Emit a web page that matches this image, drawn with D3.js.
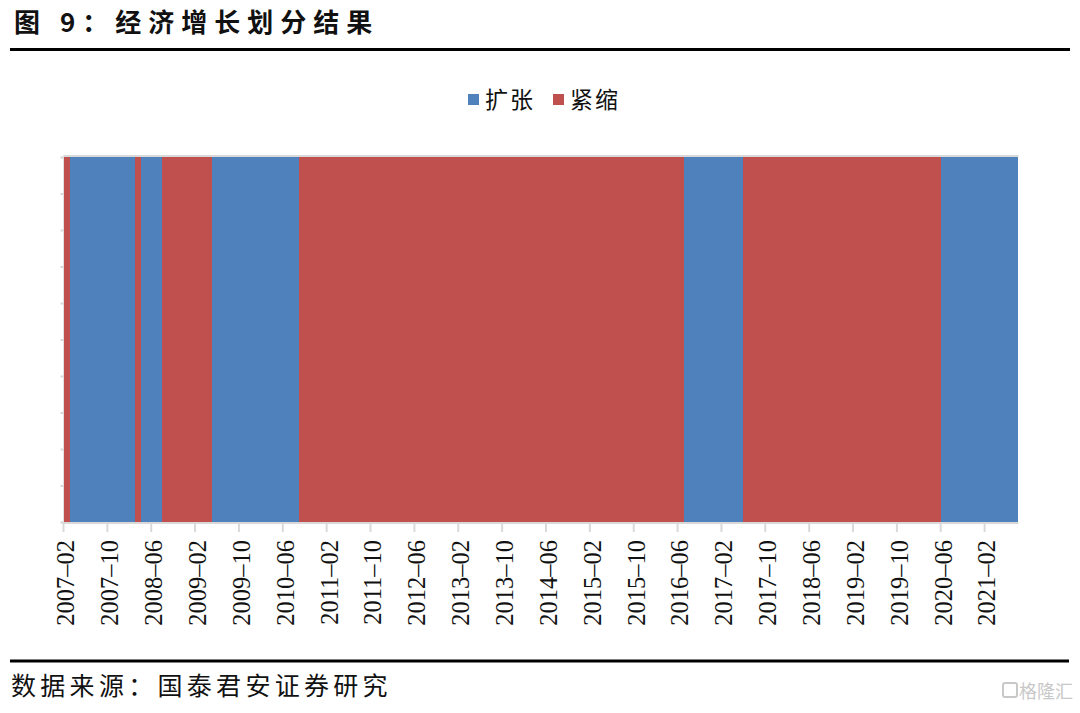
<!DOCTYPE html>
<html>
<head>
<meta charset="utf-8">
<script src="https://cdn.jsdelivr.net/npm/d3@7"></script>
<style>
  html, body { margin: 0; padding: 0; background: #fff; }
  svg { display: block; }
</style>
</head>
<body>
<svg id="chart" width="1080" height="713"></svg>
<script>
// ---------------- DATA ----------------
const seriesNames = ["扩张", "紧缩"];
const seriesColors = ["#4F81BD", "#C0504D"];
const firstMonth = "2007-02";
const lastMonth = "2021-07";
// monthly regime, 1 = in that state (2007-02 ... 2021-07)
const expansion = [
  /*2007*/ 0,1,1,1,1,1,1,1,1,1,1,
  /*2008*/ 1,1,0,1,1,1,1,0,0,0,0,0,
  /*2009*/ 0,0,0,0,1,1,1,1,1,1,1,1,
  /*2010*/ 1,1,1,1,1,1,1,1,0,0,0,0,
  /*2011*/ 0,0,0,0,0,0,0,0,0,0,0,0,
  /*2012*/ 0,0,0,0,0,0,0,0,0,0,0,0,
  /*2013*/ 0,0,0,0,0,0,0,0,0,0,0,0,
  /*2014*/ 0,0,0,0,0,0,0,0,0,0,0,0,
  /*2015*/ 0,0,0,0,0,0,0,0,0,0,0,0,
  /*2016*/ 0,0,0,0,0,0,1,1,1,1,1,1,
  /*2017*/ 1,1,1,1,1,0,0,0,0,0,0,0,
  /*2018*/ 0,0,0,0,0,0,0,0,0,0,0,0,
  /*2019*/ 0,0,0,0,0,0,0,0,0,0,0,0,
  /*2020*/ 0,0,0,0,0,1,1,1,1,1,1,1,
  /*2021*/ 1,1,1,1,1,1,1
];
const contraction = [
  /*2007*/ 1,0,0,0,0,0,0,0,0,0,0,
  /*2008*/ 0,0,1,0,0,0,0,1,1,1,1,1,
  /*2009*/ 1,1,1,1,0,0,0,0,0,0,0,0,
  /*2010*/ 0,0,0,0,0,0,0,0,1,1,1,1,
  /*2011*/ 1,1,1,1,1,1,1,1,1,1,1,1,
  /*2012*/ 1,1,1,1,1,1,1,1,1,1,1,1,
  /*2013*/ 1,1,1,1,1,1,1,1,1,1,1,1,
  /*2014*/ 1,1,1,1,1,1,1,1,1,1,1,1,
  /*2015*/ 1,1,1,1,1,1,1,1,1,1,1,1,
  /*2016*/ 1,1,1,1,1,1,0,0,0,0,0,0,
  /*2017*/ 0,0,0,0,0,1,1,1,1,1,1,1,
  /*2018*/ 1,1,1,1,1,1,1,1,1,1,1,1,
  /*2019*/ 1,1,1,1,1,1,1,1,1,1,1,1,
  /*2020*/ 1,1,1,1,1,0,0,0,0,0,0,0,
  /*2021*/ 0,0,0,0,0,0,0
];
const tickLabels = ["2007-02","2007-10","2008-06","2009-02","2009-10","2010-06",
  "2011-02","2011-10","2012-06","2013-02","2013-10","2014-06","2015-02","2015-10",
  "2016-06","2017-02","2017-10","2018-06","2019-02","2019-10","2020-06","2021-02"];
const titleText = "图 9：经济增长划分结果";
const sourceText = "数据来源：国泰君安证券研究";

// ---------------- BUILD ----------------
const parse = d3.timeParse("%Y-%m");
const fmt = d3.timeFormat("%Y-%m");
const months = d3.timeMonth.range(parse(firstMonth), d3.timeMonth.offset(parse(lastMonth), 1)).map(fmt);
const rows = months.map((m, i) => ({ month: m, "扩张": expansion[i], "紧缩": contraction[i] }));

const svg = d3.select("#chart");
const plot = { left: 63.5, right: 1017.5, top: 157, bottom: 522 };

const x = d3.scaleBand().domain(months).range([plot.left, plot.right]).padding(0);
const y = d3.scaleLinear().domain([0, 1]).range([plot.bottom, plot.top]);
const color = d3.scaleOrdinal().domain(seriesNames).range(seriesColors);

const stacked = d3.stack().keys(seriesNames)(rows);

// Title
svg.append("text")
  .attr("x", 14).attr("y", 32)
  .attr("font-family", "'Noto Sans CJK SC', sans-serif")
  .attr("font-weight", "bold")
  .attr("font-size", 26)
  .attr("letter-spacing", 7)
  .attr("fill", "#111")
  .text(titleText);
svg.append("line")
  .attr("x1", 10).attr("x2", 1070).attr("y1", 49.5).attr("y2", 49.5)
  .attr("stroke", "#000").attr("stroke-width", 3);

// Legend
const legend = svg.append("g").attr("transform", "translate(468,0)");
const legendItems = [{ name: "扩张", x: 0 }, { name: "紧缩", x: 85 }];
legendItems.forEach(it => {
  legend.append("rect").attr("x", it.x).attr("y", 94).attr("width", 11).attr("height", 11)
    .attr("fill", color(it.name));
  legend.append("text").attr("x", it.x + 17).attr("y", 108)
    .attr("font-family", "'Noto Sans CJK SC', sans-serif")
    .attr("font-size", 23).attr("letter-spacing", 2).attr("fill", "#111")
    .text(it.name);
});

// Y axis (faint ticks, no labels)
const yAxis = svg.append("g").attr("transform", `translate(${plot.left},0)`)
  .call(d3.axisLeft(y).ticks(10).tickSize(3).tickFormat(""));
yAxis.selectAll("line").attr("stroke", "#d9d9d9").attr("stroke-width", 2);
yAxis.select(".domain").attr("stroke", "#d9d9d9").attr("stroke-width", 1.5);

// Stacked bars
const layers = svg.append("g").attr("shape-rendering", "crispEdges")
  .selectAll("g").data(stacked).join("g")
  .attr("fill", d => color(d.key));
layers.selectAll("rect").data(d => d).join("rect")
  .attr("x", d => x(d.data.month))
  .attr("width", x.bandwidth() + 0.6)
  .attr("y", d => y(d[1]))
  .attr("height", d => y(d[0]) - y(d[1]));

// top border
svg.append("line")
  .attr("x1", plot.left).attr("x2", plot.right + 1)
  .attr("y1", plot.top - 1).attr("y2", plot.top - 1)
  .attr("stroke", "#d9d9d9").attr("stroke-width", 2);

// X axis
const xAxis = svg.append("g").attr("transform", `translate(0,${plot.bottom + 1})`)
  .call(d3.axisBottom(x).tickValues(tickLabels).tickSize(9).tickSizeOuter(0).tickFormat(""));
xAxis.selectAll(".tick").attr("transform", d => `translate(${x(d)},0)`);
xAxis.selectAll(".tick line").attr("stroke", "#d9d9d9").attr("stroke-width", 2);
xAxis.select(".domain").attr("stroke", "#d9d9d9").attr("stroke-width", 2)
  .attr("d", `M${plot.left},0H${plot.right + 1}`);
xAxis.selectAll(".tick").append("text")
  .attr("transform", "translate(0,17) rotate(-90)")
  .attr("text-anchor", "end")
  .attr("dy", "0.36em")
  .attr("x", 0).attr("y", 2)
  .attr("font-family", "'Liberation Serif', 'Times New Roman', serif")
  .attr("font-size", 24.5)
  .attr("fill", "#111")
  .text(d => d.replace("-", "–"));

// Source
svg.append("line")
  .attr("x1", 10).attr("x2", 1069).attr("y1", 661).attr("y2", 661)
  .attr("stroke", "#000").attr("stroke-width", 3);
svg.append("text")
  .attr("x", 11).attr("y", 695)
  .attr("font-family", "'Noto Sans CJK SC', sans-serif")
  .attr("font-size", 25).attr("letter-spacing", 4.3).attr("fill", "#111")
  .text(sourceText);

// watermark
svg.append("rect")
  .attr("x", 1003).attr("y", 683).attr("width", 14).attr("height", 14).attr("rx", 2)
  .attr("fill", "none").attr("stroke", "#c8c8c8").attr("stroke-width", 2);
svg.append("text")
  .attr("x", 1073).attr("y", 698).attr("text-anchor", "end")
  .attr("font-family", "'Noto Sans CJK SC', sans-serif")
  .attr("font-size", 18).attr("fill", "#c8c8c8")
  .text("格隆汇");
</script>
</body>
</html>
